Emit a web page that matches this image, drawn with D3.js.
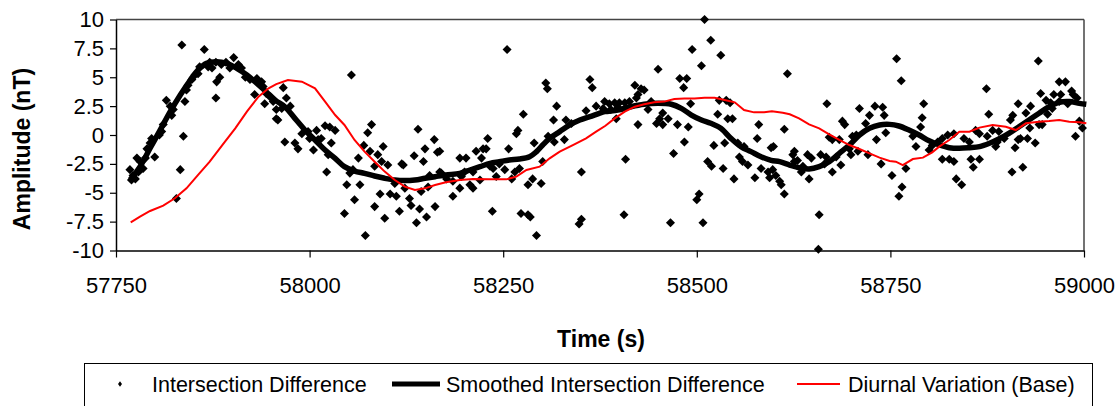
<!DOCTYPE html>
<html lang="en">

<head>
	<meta charset="utf-8">
	<script src="https://d3js.org/d3.v7.min.js"></script>
	<style type="text/css">
		body {
			margin: 0;
			background: white;
			font-family: Arial, "Liberation Sans", sans-serif;
		}
	</style>
</head>

<body>
	<svg id="chart" width="1119" height="406"></svg>
	<script type="text/javascript">
		// [time (s), amplitude (nT)]
		var diffPoints = [
			[57835, 7.8], [57864, 7.4], [57902, 6.7], [57871, 6.3], [57879, 6.3], [57892, 6.3], [57869, 5.9], [57874, 5.8],
			[57886, 6.1], [57897, 5.8], [57908, 6.1], [57912, 5.8], [57884, 5.0], [57880, 4.6], [57879, 3.2], [57858, 5.9],
			[57856, 5.3], [57852, 5.2], [57848, 4.8], [57843, 4.3], [57841, 3.9], [57917, 5.0], [57923, 4.8], [57932, 4.9],
			[57938, 4.6], [57929, 3.5], [57940, 4.2], [57944, 3.6], [57949, 3.3], [57953, 2.9], [57942, 2.7], [57957, 1.4],
			[57957, 2.2], [57839, 2.9], [57837, -0.1], [57833, -3.0], [57828, -5.5], [57815, 3.0], [57820, 2.5], [57824, 2.2],
			[57822, 1.7], [57811, 0.9], [57809, 0.3], [57806, 0.0], [57796, -0.3], [57794, -0.7], [57790, -1.2], [57800, -1.9],
			[57788, -2.0], [57781, -2.3], [57777, -2.0], [57785, -2.9], [57779, -3.2], [57772, -3.5], [57768, -3.0], [57770, -3.9],
			[57775, -3.8],
			[58054, 5.2], [57966, 4.1], [57970, 3.2], [57964, 2.3], [57975, 2.5], [57959, 1.3], [57968, -0.6], [57981, -0.7],
			[57985, -1.2], [57990, 0.1], [57998, 0.3], [58000, -0.3], [58005, -1.3], [58009, 0.4], [58020, 0.8], [58026, 0.7],
			[58033, 0.4], [58011, -0.4], [58015, -0.3], [58028, -0.7], [58024, -1.7], [58022, -3.2], [58080, 0.9], [58075, 0.2],
			[58070, -0.9], [58078, -1.4], [58095, -1.0], [58088, -1.7], [58093, -2.3], [58084, -2.7], [58101, -2.6], [58063, -2.0],
			[58056, -3.0], [58052, -3.3], [58048, -4.3], [58065, -4.3], [58058, -5.6], [58045, -6.8], [58072, -8.7], [58084, -6.2],
			[58097, -7.2], [58091, -5.1], [58104, -5.1], [58112, -5.3], [58116, -6.6], [58119, -2.5], [58121, -2.6], [58135, -1.8],
			[58140, 0.5], [58147, -2.3], [58149, -1.2], [58161, -0.4], [58165, -1.5], [58123, -4.6], [58129, -5.5], [58131, -6.1],
			[58142, -6.4], [58151, -7.1], [58138, -7.6], [58144, -4.9], [58162, -6.2], [58153, -4.5], [58170, -3.3], [58110, -4.2],
			[58168, -3.2], [58155, -3.5],
			[58255, 7.4], [58305, 4.5], [58307, 4.0], [58362, 4.8], [58365, 4.1], [58319, 2.5], [58276, 1.8], [58370, 2.5],
			[58357, 2.1], [58379, 2.3], [58315, 1.3], [58331, 1.3], [58338, 1.0], [58269, 0.4], [58267, 0.1], [58230, -0.3],
			[58215, -1.4], [58224, -1.2], [58228, -1.2], [58222, -2.0], [58257, -1.2], [58290, -0.7], [58308, -0.1], [58316, -0.6],
			[58329, -0.4], [58194, -2.0], [58202, -2.0], [58168, -1.4], [58301, -2.3], [58245, -2.5], [58252, -3.0], [58265, -3.2],
			[58271, -2.9], [58261, -3.8], [58241, -3.6], [58237, -2.9], [58220, -3.9], [58207, -4.3], [58211, -4.6], [58194, -4.6],
			[58185, -5.3], [58177, -3.8], [58185, -4.0], [58288, -3.8], [58282, -4.3], [58299, -4.2], [58351, -3.2], [58236, -6.6],
			[58273, -6.8], [58282, -6.9], [58285, -7.1], [58293, -8.7], [58351, -7.3], [58348, -7.7], [58200, -3.2], [58196, -3.6],
			[58211, -3.2], [58233, -2.7],
			[58510, 10.0], [58518, 8.2], [58494, 7.4], [58531, 6.9], [58506, 6.0], [58450, 5.7], [58478, 4.9], [58487, 4.9],
			[58483, 4.1], [58420, 4.3], [58428, 4.0], [58432, 3.9], [58381, 2.9], [58387, 2.7], [58394, 2.8], [58400, 2.8],
			[58407, 2.8], [58413, 2.9], [58422, 3.2], [58389, 2.2], [58398, 2.4], [58424, 3.5], [58441, 2.9], [58437, 2.2],
			[58492, 2.7], [58529, 3.0], [58538, 3.0], [58543, 2.8], [58527, 1.8], [58540, 1.4], [58546, 1.4], [58456, 1.9],
			[58452, 1.4], [58463, 1.4], [58448, 1.0], [58456, 0.9], [58424, 0.9], [58396, 1.4], [58475, 0.9], [58489, 0.7],
			[58484, -0.6], [58470, -1.6], [58408, -2.1], [58522, -0.9], [58536, -0.7], [58514, -2.3], [58519, -2.7], [58534, -2.9],
			[58548, -3.8], [58553, -0.7], [58561, -1.0], [58555, -1.9], [58559, -2.3], [58566, -2.6], [58580, 0.9], [58578, -0.3],
			[58575, -3.7], [58583, -2.9], [58592, -3.2], [58594, -3.7], [58596, -1.1], [58503, -5.1], [58500, -5.6], [58406, -6.9],
			[58466, -7.6], [58508, -7.6],
			[58758, 6.6], [58617, 5.3], [58764, 4.7], [58668, 2.7], [58793, 2.7], [58710, 2.3], [58730, 2.5], [58740, 2.4],
			[58742, 1.7], [58723, 1.7], [58791, 1.5], [58688, 1.2], [58691, 0.9], [58718, 1.0], [58613, 0.5], [58789, 0.7],
			[58744, 0.2], [58671, -0.2], [58675, -0.4], [58684, -0.4], [58732, -0.4], [58599, -1.0], [58783, -1.0], [58626, -1.4],
			[58624, -1.7], [58643, -1.7], [58648, -2.0], [58660, -1.7], [58667, -1.9], [58680, -1.9], [58697, -1.2], [58699, -1.7],
			[58708, -1.4], [58721, -1.7], [58701, -0.1], [58706, 0.0], [58779, -0.1], [58800, -1.3], [58738, -2.5], [58686, -2.6],
			[58675, -3.2], [58665, -2.5], [58635, -3.2], [58637, -2.7], [58626, -2.3], [58630, -2.2], [58645, -3.8], [58598, -3.0],
			[58602, -3.5], [58607, -4.0], [58609, -4.3], [58613, -5.1], [58770, -2.9], [58752, -3.5], [58765, -4.5], [58761, -5.3],
			[58658, -6.9], [58657, -9.9],
			[58941, 6.4], [58874, 4.0], [58968, 4.6], [58976, 4.6], [58984, 3.8], [58986, 3.5], [58944, 3.6], [58961, 3.5],
			[58970, 3.5], [58951, 3.0], [58957, 2.8], [58915, 2.7], [58931, 2.5], [58925, 1.9], [58953, 1.8], [58877, 1.8],
			[58908, 1.7], [58905, 1.3], [58942, 0.9], [58946, 0.9], [58930, 0.6], [58994, 1.2], [58998, 0.6], [58989, -0.1],
			[58918, -0.3], [58927, -0.3], [58915, -0.4], [58937, -0.7], [58911, -1.1], [58882, 0.4], [58890, 0.3], [58860, 0.4],
			[58865, 0.1], [58875, -0.1], [58888, -0.6], [58897, -0.3], [58886, -1.0], [58845, -0.3], [58852, -0.6], [58832, 0.1],
			[58824, 0.0], [58817, -0.3], [58811, -0.6], [58804, -0.9], [58817, -2.1], [58826, -2.1], [58832, -2.3], [58854, -2.1],
			[58865, -2.1], [58857, -2.8], [58835, -3.8], [58842, -4.3], [58907, -3.2], [58921, -2.8], [58979, 2.7], [58968, 2.9],
			[58959, 2.3], [58991, 3.2]
		];

		var smoothPoints = [
			[57768, -3.9], [57770, -3.75], [57781, -2.74], [57794, -1.15], [57807, 0.43], [57820, 2.02], [57833, 3.46],
			[57846, 4.76], [57856, 5.63], [57867, 6.2], [57880, 6.35], [57893, 6.2], [57906, 5.77], [57919, 5.2],
			[57932, 4.47], [57944, 3.75], [57956, 3.0], [57968, 2.45], [57981, 1.44], [57994, 0.43], [58007, -0.43],
			[58020, -1.3], [58033, -2.02], [58045, -2.74], [58058, -3.12], [58071, -3.32], [58084, -3.55], [58097, -3.75],
			[58110, -3.9], [58123, -3.95], [58136, -3.9], [58149, -3.75], [58162, -3.61], [58176, -3.46], [58194, -3.32],
			[58207, -3.03], [58220, -2.74], [58233, -2.45], [58245, -2.31], [58258, -2.16], [58271, -2.08], [58284, -1.88],
			[58293, -1.44], [58301, -0.87], [58310, -0.29], [58323, 0.29], [58336, 0.87], [58349, 1.3], [58362, 1.59],
			[58374, 1.88], [58381, 2.02], [58398, 2.16], [58415, 2.45], [58432, 2.66], [58450, 2.74], [58467, 2.66],
			[58480, 2.31], [58493, 1.73], [58506, 1.3], [58518, 1.01], [58531, 0.58], [58544, -0.29], [58557, -1.01],
			[58570, -1.44], [58583, -1.88], [58596, -2.2], [58607, -2.31], [58620, -2.6], [58632, -2.83], [58645, -2.94],
			[58658, -2.74], [58671, -2.31], [58684, -1.59], [58697, -0.87], [58710, 0.0], [58723, 0.58], [58736, 0.87],
			[58749, 0.92], [58761, 0.78], [58774, 0.43], [58787, 0.0], [58800, -0.5], [58813, -0.85], [58826, -1.1],
			[58839, -1.15], [58852, -1.1], [58865, -1.01], [58878, -0.72], [58890, -0.35], [58903, 0.14], [58916, 0.72],
			[58929, 1.3], [58942, 1.88], [58955, 2.45], [58968, 2.83], [58981, 2.89], [58994, 2.74], [59003, 2.66]
		];

		var diurnalPoints = [
			[57769, -7.56], [57781, -7.07], [57794, -6.58], [57811, -6.12], [57826, -5.48], [57841, -4.62], [57856, -3.46],
			[57871, -2.31], [57889, -0.72], [57904, 0.58], [57919, 2.02], [57934, 3.32], [57947, 4.04], [57957, 4.4],
			[57972, 4.76], [57990, 4.62], [58007, 4.04], [58020, 2.89], [58033, 1.73], [58045, 0.87], [58058, -0.43],
			[58071, -1.44], [58084, -2.31], [58097, -3.17], [58110, -3.9], [58123, -4.47], [58136, -4.76], [58149, -4.62],
			[58162, -4.33], [58176, -4.1], [58194, -3.9], [58211, -3.81], [58233, -3.84], [58254, -3.84], [58267, -3.61],
			[58280, -3.03], [58297, -2.74], [58310, -2.02], [58323, -1.44], [58340, -0.87], [58357, -0.29], [58370, 0.29],
			[58382, 0.8], [58394, 1.44], [58407, 2.02], [58420, 2.45], [58432, 2.66], [58445, 2.83], [58458, 2.89],
			[58471, 3.12], [58484, 3.17], [58497, 3.17], [58510, 3.23], [58523, 3.23], [58536, 3.03], [58549, 2.83],
			[58561, 2.16], [58574, 1.96], [58587, 1.96], [58597, 2.05], [58611, 1.93], [58620, 1.79], [58632, 1.44],
			[58645, 0.92], [58658, 0.58], [58671, 0.06], [58684, -0.43], [58697, -0.87], [58710, -1.21], [58723, -1.59],
			[58736, -1.96], [58749, -2.25], [58757, -2.31], [58766, -2.6], [58779, -2.08], [58792, -1.96], [58804, -1.5],
			[58813, -1.01], [58826, -0.43], [58839, 0.29], [58852, 0.29], [58865, 0.64], [58882, 0.87], [58899, 0.72],
			[58912, 0.43], [58925, 1.01], [58942, 1.15], [58955, 1.21], [58968, 1.3], [58981, 1.15], [58994, 1.1], [59003, 1.01]
		];

		var xTicks = [57750, 58000, 58250, 58500, 58750, 59000];
		var yTicks = [-10, -7.5, -5, -2.5, 0, 2.5, 5, 7.5, 10];
		var seriesNames = ["Intersection Difference", "Smoothed Intersection Difference", "Diurnal Variation (Base)"];

		// plot area edges (window.top is reserved, so no bare "top")
		var plotL = 116, plotR = 1084, plotT = 19.5, plotB = 250.5;

		var svg = d3.select("#chart");

		var x = d3.scaleLinear().domain([57750, 59000]).range([plotL, plotR]);
		var y = d3.scaleLinear().domain([-10, 10]).range([plotB, plotT]);

		// rotated-square marker like the Excel diamond
		var diamond = {
			draw: function (ctx, size) {
				var r = Math.sqrt(size / 2);
				ctx.moveTo(0, -r);
				ctx.lineTo(r, 0);
				ctx.lineTo(0, r);
				ctx.lineTo(-r, 0);
				ctx.closePath();
			}
		};

		// plot frame
		svg.append("line").attr("x1", plotL).attr("x2", plotR).attr("y1", plotT).attr("y2", plotT)
			.style("stroke", "#444").style("stroke-width", 1.5);
		svg.append("line").attr("x1", plotR).attr("x2", plotR).attr("y1", plotT).attr("y2", plotB)
			.style("stroke", "#444").style("stroke-width", 1.5);

		var xAxis = svg.append("g")
			.attr("transform", "translate(0," + plotB + ")")
			.call(d3.axisBottom(x).tickValues(xTicks).tickSizeInner(7).tickSizeOuter(0).tickPadding(20).tickFormat(d3.format("d")));
		var yAxis = svg.append("g")
			.attr("transform", "translate(" + plotL + ",0)")
			.call(d3.axisLeft(y).tickValues(yTicks).tickSizeInner(6).tickSizeOuter(0).tickPadding(6).tickFormat(d => d));

		[xAxis, yAxis].forEach(function (g) {
			g.select(".domain").style("stroke", "#000").style("stroke-width", 1.5);
			g.selectAll(".tick line").style("stroke", "#000").style("stroke-width", 1.2);
			g.selectAll(".tick text")
				.style("font-family", "Arial, 'Liberation Sans', sans-serif")
				.style("font-size", "22px")
				.style("fill", "#000");
		});

		// series 1: scatter
		svg.append("g").selectAll("path")
			.data(diffPoints)
			.enter()
			.append("path")
			.attr("d", d3.symbol().type(diamond).size(41))
			.attr("transform", d => "translate(" + x(d[0]) + "," + y(d[1]) + ")")
			.style("fill", "#000");

		// series 2: smoothed
		svg.append("path")
			.datum(smoothPoints)
			.attr("d", d3.line().x(d => x(d[0])).y(d => y(d[1])).curve(d3.curveCatmullRom))
			.style("fill", "none")
			.style("stroke", "#000")
			.style("stroke-width", 5.5);

		// series 3: diurnal base
		svg.append("path")
			.datum(diurnalPoints)
			.attr("d", d3.line().x(d => x(d[0])).y(d => y(d[1])))
			.style("fill", "none")
			.style("stroke", "#ff0000")
			.style("stroke-width", 2);

		// axis titles
		svg.append("text")
			.text("Amplitude (nT)")
			.attr("transform", "translate(30,149) rotate(-90)")
			.attr("text-anchor", "middle")
			.style("font-family", "Arial, 'Liberation Sans', sans-serif")
			.style("font-weight", "bold")
			.style("font-size", "23px");

		svg.append("text")
			.text("Time (s)")
			.attr("x", 601)
			.attr("y", 347)
			.attr("text-anchor", "middle")
			.style("font-family", "Arial, 'Liberation Sans', sans-serif")
			.style("font-weight", "bold")
			.style("font-size", "23px");

		// legend (box runs off the bottom edge, as in the original)
		var legend = svg.append("g");
		var legendY = 384;
		legend.append("rect")
			.attr("x", 84.5).attr("y", 363.5)
			.attr("width", 1008).attr("height", 60)
			.style("fill", "white")
			.style("stroke", "#000")
			.style("stroke-width", 1);

		legend.append("path")
			.attr("d", d3.symbol().type(diamond).size(14))
			.attr("transform", "translate(120," + legendY + ") scale(0.75,1)")
			.style("fill", "#000");
		legend.append("line")
			.attr("x1", 392).attr("x2", 440).attr("y1", legendY).attr("y2", legendY)
			.style("stroke", "#000").style("stroke-width", 5);
		legend.append("line")
			.attr("x1", 797).attr("x2", 840).attr("y1", legendY).attr("y2", legendY)
			.style("stroke", "#ff0000").style("stroke-width", 2);

		var legendX = [152, 446, 848];
		legend.selectAll("text.lbl")
			.data(seriesNames)
			.enter()
			.append("text")
			.attr("class", "lbl")
			.attr("x", (d, i) => legendX[i])
			.attr("y", legendY + 8)
			.text(d => d)
			.style("font-family", "Arial, 'Liberation Sans', sans-serif")
			.style("font-size", "21.5px");
	</script>
</body>

</html>
